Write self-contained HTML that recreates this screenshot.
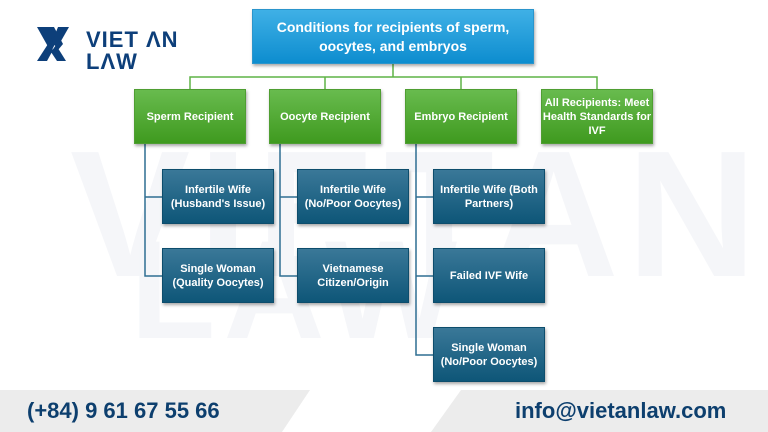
<!DOCTYPE html>
<html><head><meta charset="utf-8"><style>
*{margin:0;padding:0;box-sizing:border-box}
body{width:768px;height:432px;overflow:hidden;background:#fff;position:relative;font-family:"Liberation Sans",sans-serif;font-weight:bold}
.b{position:absolute;display:flex;align-items:center;justify-content:center;text-align:center;color:#fff;font-size:11px;line-height:14px;box-shadow:1px 2px 3px rgba(0,0,0,.35)}
.g{background:linear-gradient(#68bb4e,#3f9a1f);border:1px solid #4f9e32}
.d{background:linear-gradient(#3a7898,#0e5678);border:1px solid #0d4d6c}
.t{background:linear-gradient(#3fb0e6,#0d8dcf);border:1px solid #2a95cc;font-size:14px;line-height:19px}
.ft{position:absolute;top:390px;height:42px;background:#ececec;color:#0d3f6e;font-size:22px;display:flex;align-items:center}
</style></head><body>
<div style="position:absolute;left:70px;top:125px;font-size:180px;color:#f5f6f9;letter-spacing:8px;line-height:180px">VIETAN</div>
<div style="position:absolute;left:130px;top:220px;font-size:140px;color:#f5f6f9;letter-spacing:8px;line-height:140px">LAW</div>
<svg style="position:absolute;left:0;top:0" width="768" height="432">
<g fill="#0d3f7a"><polygon points="37,27 46,27 55,44 51,52"/><polygon points="45,27 54,27 63,44 58,50"/><polygon points="58,27 69,27 57,48 52,42"/><polygon points="37,61 47,61 53,50 48,44"/><polygon points="51,52 56,45 66,61 57,61"/></g>
<g stroke="#5fb446" stroke-width="1.5" fill="none"><path d="M393,64V77M190,89V77H597V89M325,77V89M461,77V89"/></g>
<g stroke="#2f6f92" stroke-width="1.5" fill="none"><path d="M145,144V276H162M145,197H162M280,144V276H297M280,197H297M416,144V355H433M416,197H433M416,276H433"/></g>
</svg>
<div style="position:absolute;left:86px;top:29px;color:#0d3f7a;font-size:22px;line-height:22px;letter-spacing:1px;font-weight:bold">VIET ΛN<br>LΛW</div>
<div class="b t" style="left:252px;top:9px;width:282px;height:55px">Conditions for recipients of sperm,<br>oocytes, and embryos</div>
<div class="b g" style="left:134px;top:89px;width:112px;height:55px">Sperm Recipient</div>
<div class="b g" style="left:269px;top:89px;width:112px;height:55px">Oocyte Recipient</div>
<div class="b g" style="left:405px;top:89px;width:112px;height:55px">Embryo Recipient</div>
<div class="b g" style="left:541px;top:89px;width:112px;height:55px">All Recipients: Meet Health Standards for IVF</div>
<div class="b d" style="left:162px;top:169px;width:112px;height:55px">Infertile Wife<br>(Husband's Issue)</div>
<div class="b d" style="left:162px;top:248px;width:112px;height:55px">Single Woman<br>(Quality Oocytes)</div>
<div class="b d" style="left:297px;top:169px;width:112px;height:55px">Infertile Wife<br>(No/Poor Oocytes)</div>
<div class="b d" style="left:297px;top:248px;width:112px;height:55px">Vietnamese<br>Citizen/Origin</div>
<div class="b d" style="left:433px;top:169px;width:112px;height:55px">Infertile Wife (Both<br>Partners)</div>
<div class="b d" style="left:433px;top:248px;width:112px;height:55px">Failed IVF Wife</div>
<div class="b d" style="left:433px;top:327px;width:112px;height:55px">Single Woman<br>(No/Poor Oocytes)</div>
<div class="ft" style="left:0;width:310px;clip-path:polygon(0 0,100% 0,282px 100%,0 100%);padding-left:27px">(+84) 9 61 67 55 66</div>
<div class="ft" style="left:431px;width:337px;clip-path:polygon(30px 0,100% 0,100% 100%,0 100%);padding-left:84px">info@vietanlaw.com</div>
</body></html>
